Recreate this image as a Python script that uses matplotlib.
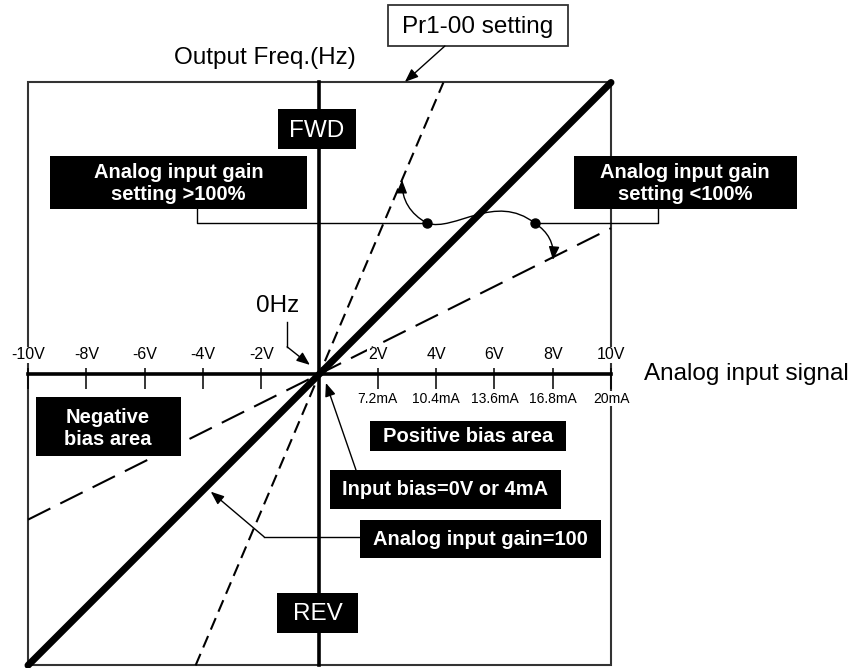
import matplotlib.pyplot as plt
from matplotlib.patches import Rectangle, PathPatch
from matplotlib.path import Path

plt.rcParams['font.family'] = ['Liberation Sans', 'DejaVu Sans']
plt.rcParams['lines.scale_dashes'] = False

# analog input (V) and output frequency (% of Pr1-00) for each gain setting
input_v = [-10, 10]
out_gain_100 = [-10, 10]
input_v_high = [-4.25, 4.25]
out_gain_high = [-10, 10]
out_gain_low = [-5, 5]

volt_ticks = [-10, -8, -6, -4, -2, 2, 4, 6, 8, 10]
volt_labels = ['-10V', '-8V', '-6V', '-4V', '-2V', '2V', '4V', '6V', '8V', '10V']
ma_ticks = [2, 4, 6, 8, 10]
ma_labels = ['7.2mA', '10.4mA', '13.6mA', '16.8mA', '20mA']

fig = plt.figure(figsize=(8.55, 6.68), dpi=100)
ax = fig.add_axes([0, 0, 1, 1])
ax.set_xlim(-10.96, 18.37)
ax.set_ylim(-10.09, 12.83)
ax.axis('off')

# frame and axes
ax.add_patch(Rectangle((-10, -10), 20, 20, fill=False, ec='#333333', lw=1.5, zorder=1))
ax.plot([-10, 10], [0, 0], color='black', lw=2.6, zorder=3)
ax.plot([0, 0], [-10, 10], color='black', lw=2.6, zorder=3)
ax.vlines(volt_ticks, -0.53, 0.2, color='black', lw=1.1, zorder=3)

# gain lines
ax.plot(input_v, out_gain_100, color='black', lw=5, solid_capstyle='round', zorder=4)
ax.plot(input_v_high, out_gain_high, color='black', lw=1.5, dashes=(9, 5), zorder=4)
ax.plot(input_v, out_gain_low, color='black', lw=1.5, dashes=(18, 8), zorder=4)

# tick labels
for x, lab in zip(volt_ticks, volt_labels):
    ax.text(x, 0.5, lab, ha='center', va='baseline', fontsize=11.5, zorder=5,
            bbox=dict(fc='white', ec='none', pad=0.5))
for x, lab in zip(ma_ticks, ma_labels):
    ax.text(x, -0.99, lab, ha='center', va='baseline', fontsize=10, zorder=5,
            bbox=dict(fc='white', ec='none', pad=0.5))

ax.text(-1.89, 10.65, 'Output Freq.(Hz)', ha='center', va='baseline', fontsize=17.5)
ax.text(11.13, -0.21, 'Analog input signal', ha='left', va='baseline', fontsize=17.5)
ax.text(-1.42, 2.14, '0Hz', ha='center', va='baseline', fontsize=17.5)

# Pr1-00 setting box
ax.add_patch(Rectangle((2.35, 11.25), 6.17, 1.41, fill=True, fc='white', ec='#333333', lw=1.3))
ax.text(5.44, 11.70, 'Pr1-00 setting', ha='center', va='baseline', fontsize=17.5)

arrow = dict(arrowstyle='-|>,head_length=0.5,head_width=0.2', color='black', lw=1.0,
             mutation_scale=16, shrinkA=0, shrinkB=0)


def label_box(x0, y0, x1, y1, text, tx, ty, size=14.5, weight='bold'):
    # ty is the baseline of the last text line
    ax.add_patch(Rectangle((x0, y0), x1 - x0, y1 - y0, fc='black', ec='none', zorder=6))
    ax.text(tx, ty, text, ha='center', va='baseline', color='white', fontsize=size,
            fontweight=weight, zorder=7)


label_box(-1.42, 7.72, 1.25, 9.09, 'FWD', -0.09, 8.13, size=17.5, weight='normal')
label_box(-1.46, -8.89, 1.32, -7.51, 'REV', -0.07, -8.44, size=17.5, weight='normal')
label_box(-9.25, 5.66, -0.43, 7.48, 'Analog input gain\nsetting >100%', -4.84, 5.97)
label_box(8.73, 5.66, 16.38, 7.48, 'Analog input gain\nsetting <100%', 12.54, 5.97)
label_box(-9.73, -2.81, -4.75, -0.79, 'Negative\nbias area', -7.25, -2.44)
label_box(1.73, -2.63, 8.45, -1.61, 'Positive bias area', 5.09, -2.32)
label_box(0.36, -4.63, 8.29, -3.29, 'Input bias=0V or 4mA', 4.32, -4.15)
label_box(1.39, -6.31, 9.66, -5.01, 'Analog input gain=100', 5.52, -5.87)

# callouts
thin = dict(color='black', lw=1.0, zorder=5)
ax.annotate('', xy=(2.93, 10.02), xytext=(4.30, 11.25), arrowprops=arrow)

ax.plot([-4.20, -4.20, 3.69], [5.66, 5.17, 5.17], **thin)
ax.plot([11.61, 11.61, 7.39], [5.66, 5.17, 5.17], **thin)
ax.plot([3.69, 7.39], [5.17, 5.17], 'o', color='black', ms=6.5, zorder=8)
ax.annotate('', xy=(2.83, 6.66), xytext=(3.69, 5.17),
            arrowprops=dict(arrow, connectionstyle='arc3,rad=-0.3'), zorder=5)
ax.annotate('', xy=(8.01, 3.91), xytext=(7.39, 5.17),
            arrowprops=dict(arrow, connectionstyle='arc3,rad=-0.3'), zorder=5)
s_curve = Path([(3.69, 5.17), (4.65, 4.87), (6.02, 6.24), (7.39, 5.17)],
               [Path.MOVETO, Path.CURVE4, Path.CURVE4, Path.CURVE4])
ax.add_patch(PathPatch(s_curve, fc='none', ec='black', lw=1.0, zorder=5))

ax.plot([-1.11, -1.11], [1.78, 0.93], **thin)
ax.annotate('', xy=(-0.33, 0.31), xytext=(-1.11, 0.93), arrowprops=arrow)

ax.annotate('', xy=(0.22, -0.31), xytext=(1.25, -3.29), arrowprops=arrow)

ax.plot([1.39, -1.90], [-5.59, -5.59], **thin)
ax.annotate('', xy=(-3.73, -4.04), xytext=(-1.90, -5.59), arrowprops=arrow)

fig.savefig('out.png', dpi=100)
